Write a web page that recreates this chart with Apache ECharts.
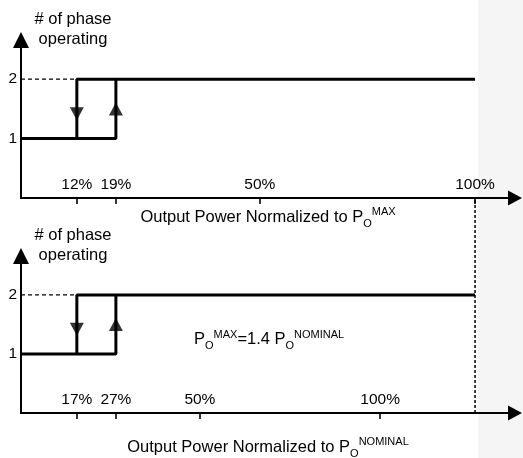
<!DOCTYPE html>
<html>
<head>
<meta charset="UTF-8">
<title>Phase shedding</title>
<script src="https://cdn.jsdelivr.net/npm/echarts@6/dist/echarts.min.js"></script>
<style>
  html, body { margin: 0; padding: 0; background: #ffffff; }
  #chart { width: 523px; height: 458px; }
</style>
</head>
<body>
<div id="chart"></div>
<script>
// schematic x position (100 = full scale of P_O MAX), labels are what the picture prints
var topTickPos = [12.3, 20.9, 52.6, 100];
var topTickLabels = ['12%', '19%', '50%', '100%'];
var bottomTickPos = [12.3, 20.9, 39.4, 79.1];
var bottomTickLabels = ['17%', '27%', '50%', '100%'];

var phaseLevels = [1, 2];
var topShed = [12.3, 20.9];      // drop to 1 phase, back to 2 phases
var bottomShed = [12.3, 20.9];
var lineEnd = 100;
var arrowLevels = [1.42, 1.5];   // where the arrow heads sit on the verticals
var dashedSpan = [0, 3.66];      // vertical guide from bottom axis up to top axis

var xMax = 108.8;
var yMax = 2.66;

var font = 'Liberation Sans, Arial, sans-serif';
var ink = '#000';

function stepSeries(idx, shed) {
  var lw = 3;
  return [
    {
      type: 'line', xAxisIndex: idx, yAxisIndex: idx, symbol: 'none',
      lineStyle: { color: ink, width: lw },
      data: [[0, 1], [shed[1], 1], [shed[1], 2], [lineEnd, 2]]
    },
    {
      type: 'line', xAxisIndex: idx, yAxisIndex: idx, symbol: 'none',
      lineStyle: { color: ink, width: lw },
      data: [[shed[1], 2], [shed[0], 2], [shed[0], 1]]
    },
    {
      type: 'line', xAxisIndex: idx, yAxisIndex: idx, symbol: 'none',
      lineStyle: { color: ink, width: 1.3, type: [4, 3] },
      data: [[0, 2], [shed[0], 2]]
    },
    {
      type: 'scatter', xAxisIndex: idx, yAxisIndex: idx,
      symbol: 'triangle', symbolSize: [14, 13], symbolRotate: 180,
      itemStyle: { color: ink },
      data: [[shed[0], arrowLevels[0]]]
    },
    {
      type: 'scatter', xAxisIndex: idx, yAxisIndex: idx,
      symbol: 'triangle', symbolSize: [14, 13],
      itemStyle: { color: ink },
      data: [[shed[1], arrowLevels[1]]]
    }
  ];
}

var richParts = {
  a: { fontFamily: font, fontSize: 16.5, color: ink },
  sub: { fontFamily: font, fontSize: 11, color: ink, padding: [13, 0, 0, 0] },
  sup: { fontFamily: font, fontSize: 11, color: ink, padding: [0, 0, 10, 0] }
};

function xAxisFor(idx, pos, labels, name, gap) {
  return {
    type: 'value', gridIndex: idx, min: 0, max: xMax,
    axisLine: { lineStyle: { color: ink, width: 2 }, symbol: ['none', 'triangle'], symbolSize: [15, 14] },
    axisTick: { customValues: pos, length: 6, lineStyle: { color: ink, width: 1.6 } },
    axisLabel: {
      customValues: pos, inside: true, margin: 5, color: ink, fontFamily: font, fontSize: 15.5,
      formatter: function (v) { return labels[pos.indexOf(v)]; }
    },
    splitLine: { show: false },
    name: name, nameLocation: 'middle', nameGap: gap,
    nameTextStyle: { color: ink, fontFamily: font, fontSize: 16.5, rich: richParts }
  };
}

function yAxisFor(idx) {
  return {
    type: 'value', gridIndex: idx, min: 0, max: yMax,
    axisLine: { show: true, lineStyle: { color: ink, width: 2 }, symbol: ['none', 'triangle'], symbolSize: [16, 16] },
    axisTick: { show: false },
    axisLabel: { customValues: phaseLevels, margin: 4, color: ink, fontFamily: font, fontSize: 15.5 },
    splitLine: { show: false },
    name: '# of phase\noperating', nameLocation: 'end', nameGap: -9,
    nameTextStyle: { color: ink, fontFamily: font, fontSize: 16.5, align: 'center', lineHeight: 20, padding: [0, 0, 0, 104] }
  };
}

var series = [].concat(stepSeries(0, topShed), stepSeries(1, bottomShed));
series.push({
  type: 'line', xAxisIndex: 1, yAxisIndex: 1, symbol: 'none', clip: false,
  lineStyle: { color: ink, width: 1.5, type: [3, 2] },
  data: [[lineEnd, dashedSpan[0]], [lineEnd, dashedSpan[1]]]
});

var chart = echarts.init(document.getElementById('chart'));
chart.setOption({
  backgroundColor: '#ffffff',
  animation: false,
  graphic: [
    { type: 'rect', left: 478, top: 0, shape: { width: 45, height: 458 }, style: { fill: '#f5f5f5' }, z: -10 },
    {
      type: 'text', left: 194, top: 329,
      style: {
        text: '{a|P}{sub|O}{sup|MAX}{a|=1.4 P}{sub|O}{sup|NOMINAL}',
        rich: {
          a: { fontFamily: font, fontSize: 16.5, fill: ink },
          sub: { fontFamily: font, fontSize: 11, fill: ink, padding: [13, 0, 0, 0] },
          sup: { fontFamily: font, fontSize: 11, fill: ink, padding: [0, 0, 10, 0] }
        }
      }
    }
  ],
  grid: [
    { left: 21, right: 8, top: 40, height: 158, outerBoundsMode: 'none', containLabel: false },
    { left: 21, right: 8, top: 256, height: 157, outerBoundsMode: 'none', containLabel: false }
  ],
  xAxis: [
    xAxisFor(0, topTickPos, topTickLabels, '{a|Output Power Normalized to P}{sub|O}{sup|MAX}', 7),
    xAxisFor(1, bottomTickPos, bottomTickLabels, '{a|Output Power Normalized to P}{sub|O}{sup|NOMINAL}', 22)
  ],
  yAxis: [yAxisFor(0), yAxisFor(1)],
  series: series
});
</script>
</body>
</html>
